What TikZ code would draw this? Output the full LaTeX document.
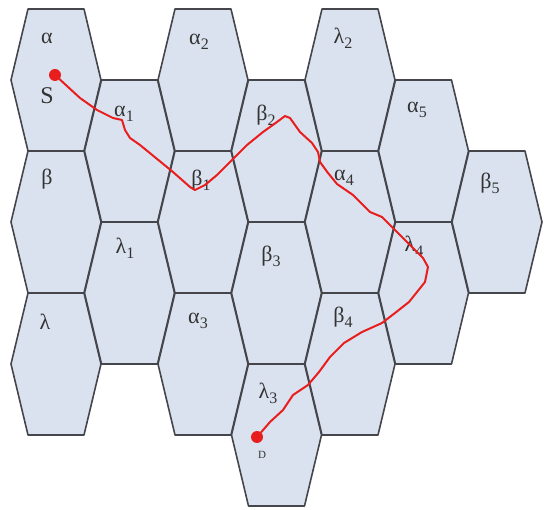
\documentclass[tikz,border=0pt]{standalone}
\usepackage{fontspec}
\setmainfont{Liberation Serif}
\usetikzlibrary{positioning}
\definecolor{cellfill}{RGB}{219,226,239}
\definecolor{cellline}{RGB}{68,70,75}
\definecolor{routered}{RGB}{232,30,30}
\newcommand{\idx}[1]{\raisebox{-0.22em}{\fontsize{16}{16}\selectfont #1}}

\begin{document}
\begin{tikzpicture}[
    x=1pt, y=-1pt,
    every node/.style={font=\fontsize{22}{24}\selectfont, text=black!80},
    cell/.pic={\draw[draw=cellline, fill=cellfill, line width=1.6pt, line join=round] (-28,-71) -- (28,-71) -- (45,0) -- (28,71) -- (-28,71) -- (-45,0) -- cycle;},
    tag/.style={inner sep=0pt},
    endpt/.style={circle, fill=routered, inner sep=0pt, minimum size=12pt},
    route/.style={routered, line width=2pt, line join=round, line cap=round},
]
\useasboundingbox (0,0) rectangle (544,510);
% cells, column by column
\pic at (56,80) {cell};
\pic at (56,222) {cell};
\pic at (56,364) {cell};
\pic at (129.5,151) {cell};
\pic at (129.5,293) {cell};
\pic at (203,80) {cell};
\pic at (203,222) {cell};
\pic at (203,364) {cell};
\pic at (276.5,151) {cell};
\pic at (276.5,293) {cell};
\pic at (276.5,435) {cell};
\pic at (350,80) {cell};
\pic at (350,222) {cell};
\pic at (350,364) {cell};
\pic at (423.5,151) {cell};
\pic at (423.5,293) {cell};
\pic at (497,222) {cell};
% labels
\node[tag] (a0) at (47,38) {α};
\node[tag] (a2) at (199,42) {α\idx{2}};
\node[tag] (l2) at (343,38) {λ\idx{2}};
\node[tag] (a1) at (124,114) {α\idx{1}};
\node[tag] (b2) at (266,115) {β\idx{2}};
\node[tag] (a5) at (417,110) {α\idx{5}};
\node[tag] (b0) at (47,179) {β};
\node[tag] (b1) at (201,180) {β\idx{1}};
\node[tag] (a4) at (344,178) {α\idx{4}};
\node[tag] (b5) at (490,183) {β\idx{5}};
\node[tag] (l1) at (125,248) {λ\idx{1}};
\node[tag] (b3) at (271,256) {β\idx{3}};
\node[tag] (l4) at (414,246) {λ\idx{4}};
\node[tag] (l0) at (45,322) {λ};
\node[tag] (a3) at (198,321) {α\idx{3}};
\node[tag] (b4) at (343,317) {β\idx{4}};
\node[tag] (l3) at (268,393) {λ\idx{3}};
% end points of the route
\node[endpt] (src) at (55,75) {};
\node[endpt] (dst) at (257,437) {};
\node[tag, font=\fontsize{24}{26}\selectfont] (srclab) at (47,96) {S};
\node[tag, font=\fontsize{11}{12}\selectfont] (dstlab) at (262,455) {D};
\draw[route] (src) -- (80,98) -- (97,110) -- (113,118) -- (122,120) -- (125,130) -- (130,138) -- (140,145) -- (173,172) -- (190,187) -- (195,190) -- (205,185) -- (217,175) -- (230,162) -- (247,145) -- (263,132) -- (277,122) -- (285,116) -- (290,118) -- (300,132) -- (312,143) -- (318,152) -- (320,162) -- (328,173) -- (337,184) -- (353,195) -- (370,212) -- (382,217) -- (397,232) -- (410,245) -- (423,258) -- (428,267) -- (425,282) -- (417,292) -- (409,302) -- (395,313) -- (382,323) -- (362,332) -- (344,343) -- (330,357) -- (319,372) -- (308,385) -- (293,395) -- (283,410) -- (270,422) -- (dst);
\end{tikzpicture}
\end{document}
